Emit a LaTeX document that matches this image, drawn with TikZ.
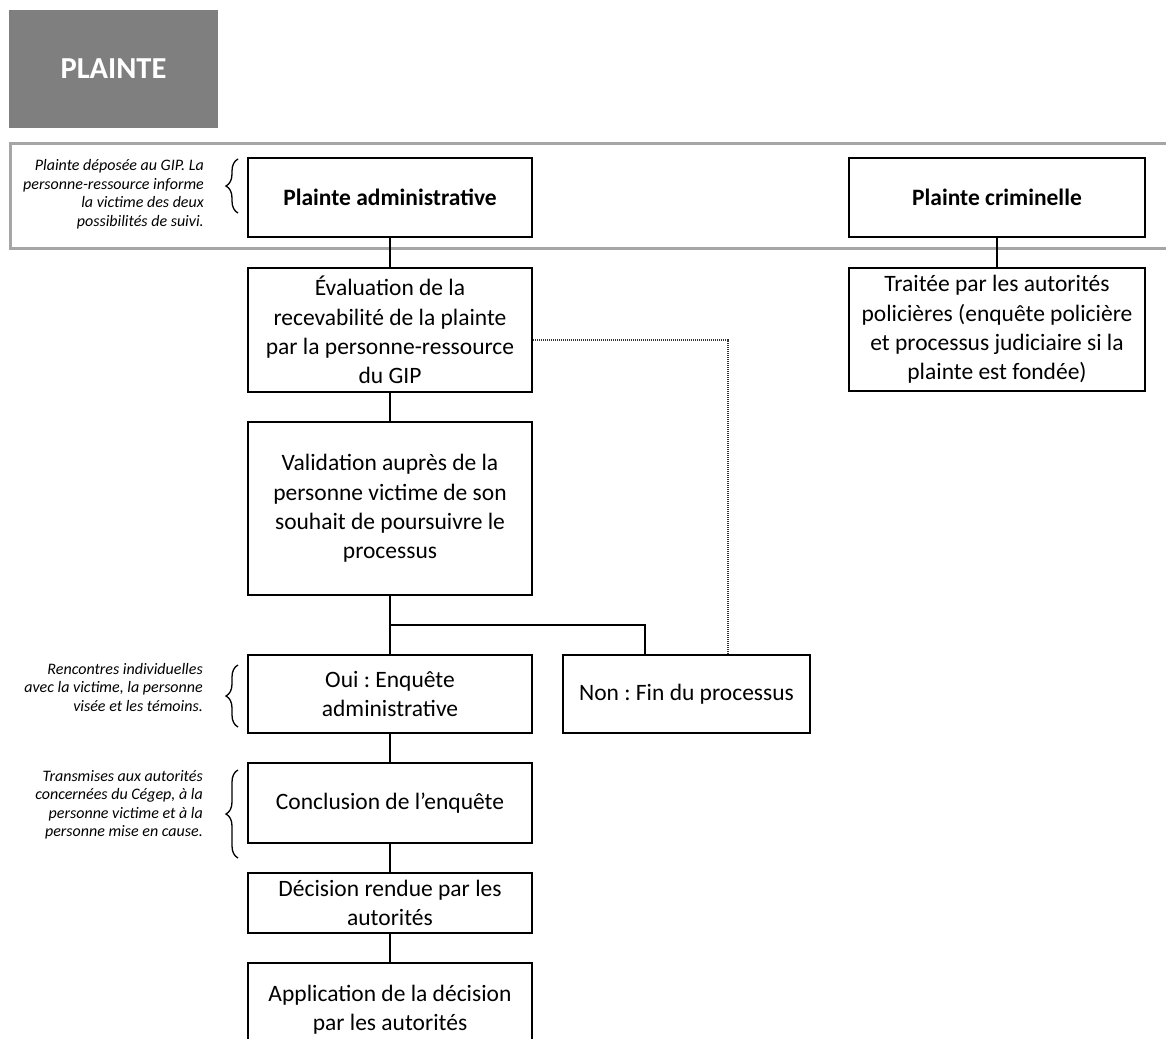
\documentclass[tikz,border=0pt]{standalone}
\usepackage{fontspec}
\setmainfont{Carlito}
\usetikzlibrary{decorations.pathreplacing}
\definecolor{hdrgray}{HTML}{7F7F7F}
\definecolor{bandgray}{HTML}{A6A6A6}
\newcommand\mainsz{\fontsize{23.5}{29.3}\selectfont}
\newcommand\notesz{\fontsize{16}{18.5}\selectfont\itshape}
\frenchspacing
\begin{document}
\begin{tikzpicture}[x=1pt,y=-1pt,
  box/.style={draw=black, line width=2.7pt, fill=white, align=center, inner sep=2pt, font=\mainsz, minimum width=284pt},
  wbox/.style={box, minimum width=296pt},
  note/.style={align=right, inner sep=0pt, font=\notesz, anchor=east},
  link/.style={draw=black, line width=2.7pt},
  dots/.style={draw=black!80, line width=1.1pt, dash pattern=on 1pt off 1pt},
  bracestyle/.style={draw=black, line width=1.3pt, decorate, decoration={brace, amplitude=12pt}},
  bandline/.style={draw=bandgray, line width=3pt}]
\useasboundingbox (0,0) rectangle (1166,1038);
\clip (0,0) rectangle (1166,1038);
\fill[white] (0,0) rectangle (1166,1038);

% header
\node[fill=hdrgray, minimum width=209pt, minimum height=118pt, inner sep=0pt,
      text=white, font=\fontsize{30.5}{36}\selectfont\bfseries] (hdr) at (113.5,69) {PLAINTE};

% gray band
\draw[bandline] (1180,143) -- (10,143) -- (10,248) -- (1180,248);

% boxes
\node[box, minimum height=79pt, font=\mainsz\bfseries] (adm) at (390,197.5) {Plainte administrative};
\node[wbox, minimum height=79pt, font=\mainsz\bfseries] (crim) at (997,197.5) {Plainte criminelle};
\node[box, minimum height=124pt] (eval) at (390,330) {Évaluation de la\\recevabilité de la plainte\\par la personne-ressource\\du GIP};
\node[wbox, minimum height=123pt] (trait) at (997,329.5) {Traitée par les autorités\\policières (enquête policière\\et processus judiciaire si la\\plainte est fondée)};
\node[box, minimum height=173pt] (valid) at (390,508.5) {Validation auprès de la\\personne victime de son\\souhait de poursuivre le\\processus};
\node[box, minimum height=78pt] (oui) at (390,694) {Oui : Enquête\\administrative};
\node[box, minimum width=247pt, minimum height=78pt] (non) at (686.5,694) {Non : Fin du processus};
\node[box, minimum height=80pt] (concl) at (390,803) {Conclusion de l’enquête};
\node[box, minimum height=60pt] (dec) at (390,903) {Décision rendue par les\\autorités};
\node[box, minimum height=94pt] (app) at (390,1010) {Application de la décision\\par les autorités};

% connectors
\coordinate (j) at (390,625);
\coordinate (nj) at (645,625);
\coordinate (dc) at (728,340);
\draw[link] (adm) -- (eval);
\draw[link] (crim) -- (trait);
\draw[link] (eval) -- (valid);
\draw[link] (valid.south) -- (j) -- (oui.north);
\draw[link] (j) -- (nj) -- (nj |- non.north);
\draw[link] (oui) -- (concl);
\draw[link] (concl) -- (dec);
\draw[link] (dec) -- (app);
\draw[dots] (eval.east |- dc) -- (dc) -- (dc |- non.north);

% notes
\node[note] (n1) at (204,194) {Plainte déposée au GIP. La\\personne-ressource informe\\la victime des deux\\possibilités de suivi.};
\node[note] (n2) at (203,687) {Rencontres individuelles\\avec la victime, la personne\\visée et les témoins.};
\node[note] (n3) at (203,805) {Transmises aux autorités\\concernées du Cégep, à la\\personne victime et à la\\personne mise en cause.};

% braces
\draw[bracestyle] (238,213) -- (238,159);
\draw[bracestyle] (238,727) -- (238,665);
\draw[bracestyle] (238,858) -- (238,770);
\end{tikzpicture}
\end{document}
